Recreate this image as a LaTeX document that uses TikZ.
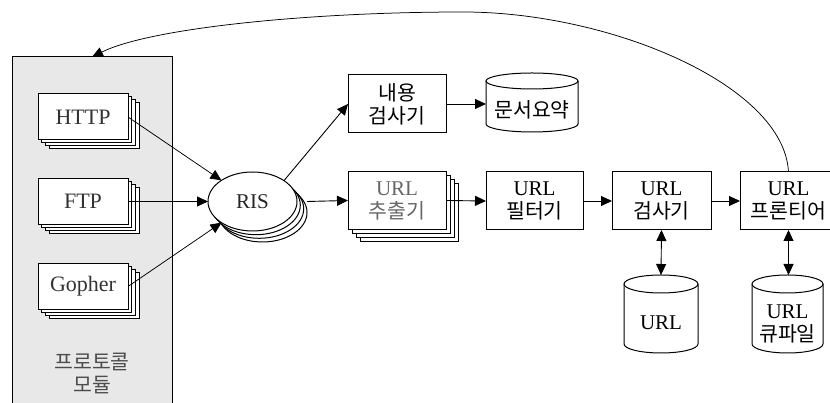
\documentclass[tikz,border=0pt]{standalone}
\usepackage{fontspec}
\setmainfont{Liberation Serif}
\newfontfamily\krfont{Noto Sans CJK KR}
\newcommand\kr{\krfont\fontsize{20.5}{23}\selectfont}
\usetikzlibrary{arrows.meta,shadows,shapes.geometric}
\tikzset{
  base/.style={inner sep=0pt, outer sep=0pt, align=center,
    font=\fontsize{21}{23}\selectfont},
  stagebox/.style={base, draw, line width=1pt, fill=white,
    minimum width=98pt, minimum height=58pt},
  stackbox/.style={stagebox,
    copy shadow={shadow xshift=12pt, shadow yshift=-12pt},
    copy shadow={shadow xshift=8pt, shadow yshift=-8pt},
    copy shadow={shadow xshift=4pt, shadow yshift=-4pt}},
  protobox/.style={base, draw, line width=1pt, fill=white,
    minimum width=90pt, minimum height=46pt, text=black!80,
    font=\fontsize{22}{24}\selectfont,
    copy shadow={shadow xshift=11pt, shadow yshift=-9pt},
    copy shadow={shadow xshift=7.3pt, shadow yshift=-6pt},
    copy shadow={shadow xshift=3.7pt, shadow yshift=-3pt}},
  risnode/.style={base, draw, line width=1pt, fill=white, ellipse,
    minimum width=89pt, minimum height=59pt, text=black!85,
    copy shadow={shadow xshift=10pt, shadow yshift=-11pt},
    copy shadow={shadow xshift=6.7pt, shadow yshift=-7.3pt},
    copy shadow={shadow xshift=3.3pt, shadow yshift=-3.7pt}},
  cylbox/.style={base, minimum width=#1, minimum height=78pt},
  cylline/.style={line width=1pt},
  tip/.style={-{Triangle[length=11pt,width=10pt]}},
  flow/.style={line width=0.9pt, tip},
  both/.style={line width=0.9pt, {Triangle[length=11pt,width=10pt]}-{Triangle[length=11pt,width=10pt]}},
}
% cylinder outline round an invisible rectangular node: #1 node, #2 x radius, #3 y radius
\newcommand\cylshape[3]{%
  \draw[cylline] ([yshift=-#3]#1.north west) -- ([yshift=#3]#1.south west)
    arc[start angle=180, end angle=360, x radius=#2, y radius=#3]
    -- ([yshift=-#3]#1.north east);
  \draw[cylline] ([yshift=-#3]#1.north) ellipse[x radius=#2, y radius=#3];}
\begin{document}
\begin{tikzpicture}[x=1pt, y=1pt]
\useasboundingbox (0,0) rectangle (830,403);
\clip (0,0) rectangle (830,403);

% protocol module panel
\node[base, draw, line width=1pt, fill=black!9, minimum width=160pt,
  minimum height=351pt] (panel) at (92,170.5) {};
\node[base, text=black!70] (paneltext) at (92,30)
  {{\kr 프로토콜}\\{\kr 모듈}};

\node[protobox] (http) at (83,286) {HTTP};
\node[protobox] (ftp) at (83,201.5) {FTP};
\node[protobox] (gopher) at (83,116.5) {Gopher};

\node[risnode] (ris) at (252.5,201.5) {RIS};

% content branch
\node[stagebox] (content) at (397,299) {{\kr 내용}\\{\kr 검사기}};
\node[cylbox=92pt, minimum height=59pt] (summary) at (532,300.5) {};
\cylshape{summary}{46pt}{8pt}
\node[base] (summarytext) at ([yshift=-7pt]summary.center) {\kr 문서요약};

% URL pipeline
\node[stackbox, text=black!60] (extract) at (397,202.5) {URL\\{\kr 추출기}};
\node[stagebox, minimum width=97pt] (filter) at (534.5,202) {URL\\{\kr 필터기}};
\node[stagebox, minimum width=99pt] (checker) at (661.5,202) {URL\\{\kr 검사기}};
\node[stagebox, minimum width=97pt] (frontier) at (788.5,202) {URL\\{\kr 프론티어}};

\node[cylbox=74pt] (urldb) at (661,89) {};
\cylshape{urldb}{37pt}{9pt}
\node[base] (urldbtext) at ([yshift=-9pt]urldb.center) {URL};

\node[cylbox=71pt] (queue) at (787.5,89) {};
\cylshape{queue}{35.5pt}{9pt}
\node[base] (queuetext) at ([yshift=-10pt]queue.center) {URL\\{\kr 큐파일}};

% connectors
\draw[flow, line width=0.75pt] (http.east) -- (ris);
\draw[flow, line width=0.75pt] (ftp.east) -- (ris.west);
\draw[flow, line width=0.75pt] (gopher.east) -- (ris);
\draw[flow] (ris.north east) -- (content.west);
\draw[flow] (content.east) -- (summary.west |- content.east);
\draw[flow] ([xshift=10pt]ris.east) -- (extract.west);
\draw[flow] (extract.east) -- (filter.west);
\draw[flow] (filter.east) -- (checker.west);
\draw[flow] (checker.east) -- (frontier.west);
\draw[both] (checker.south) -- (urldb.north);
\draw[both] (frontier.south) -- (queue.north -| frontier.south);

% feedback from the frontier to the protocol modules
\draw[line width=0.75pt, tip]
  (frontier.north) .. controls (784,318) and (610,391) .. (463,391)
  .. controls (310,391) and (150,375) .. (panel.north);
\end{tikzpicture}
\end{document}
